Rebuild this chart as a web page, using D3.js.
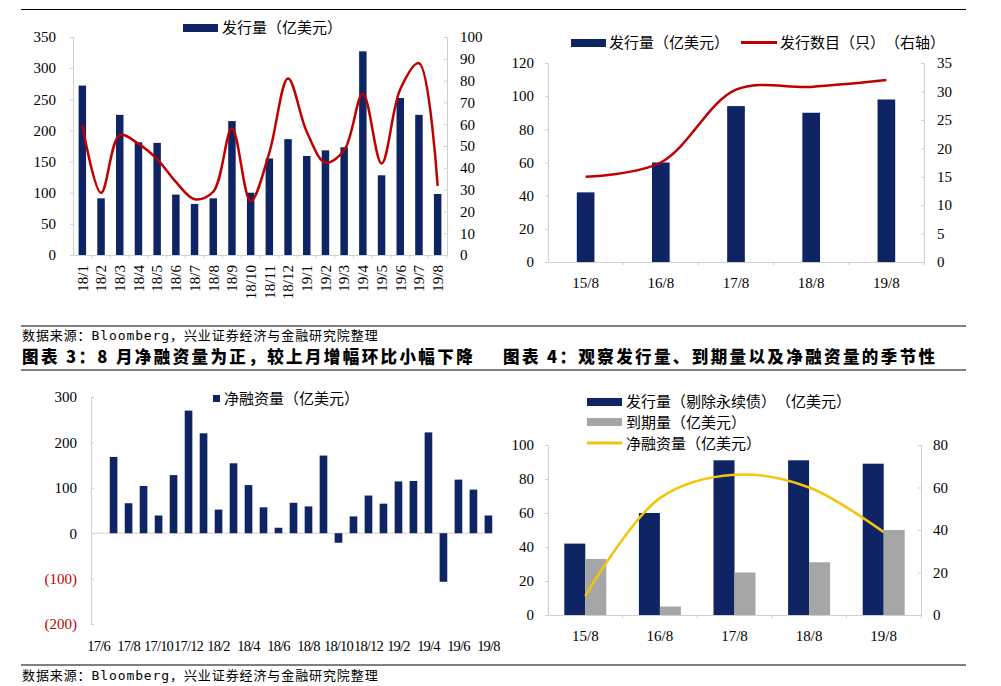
<!DOCTYPE html>
<meta charset="utf-8">
<script src="https://d3js.org/d3.v7.min.js"></script>
<style>
  body { margin: 0; background: #fff; }
  svg text { text-spacing-trim: space-all; }
  .num { font-family: "Liberation Serif", "Times New Roman", serif; font-size: 15px; }
  .num3 { font-family: "Liberation Serif", "Times New Roman", serif; font-size: 14.5px; letter-spacing: -0.8px; }
  .cjk { font-family: "Noto Sans CJK SC", sans-serif; font-size: 15px; fill: #000; }
  .src { font-family: "DejaVu Sans Mono", "Noto Sans CJK SC", monospace; font-size: 13px; letter-spacing: 0.9px; fill: #000; }
  .ttl { font-family: "Noto Sans CJK SC", sans-serif; font-size: 16.5px; font-weight: 900; fill: #000; letter-spacing: 2.4px; }
</style>
<body>
<div id="chart"></div>
<script>
// chart 1: monthly issuance + count
var months1 = ["18/1","18/2","18/3","18/4","18/5","18/6","18/7","18/8","18/9","18/10","18/11","18/12",
               "19/1","19/2","19/3","19/4","19/5","19/6","19/7","19/8"];
var issue1 = [272, 91, 225, 181, 180, 97, 82, 91, 215, 100, 155, 186, 159, 168, 173, 327, 128, 252, 225, 98];
var count1 = [59.5, 28.5, 55, 51, 44, 33.5, 25.6, 29, 58, 24.7, 47, 81, 56.5, 42.4, 48, 74, 42, 76, 88, 31.7];

// chart 2: August issuance by year
var years = ["15/8","16/8","17/8","18/8","19/8"];
var issue2 = [42, 60, 94, 90, 98];
var count2 = [15, 17.5, 30.3, 30.8, 32];

// chart 3: net financing
var months3 = ["17/6","17/7","17/8","17/9","17/10","17/11","17/12","18/1","18/2","18/3","18/4","18/5","18/6",
               "18/7","18/8","18/9","18/10","18/11","18/12","19/1","19/2","19/3","19/4","19/5","19/6","19/7","19/8"];
var net3 = [null, 168, 66, 104, 39, 128, 270, 220, 52, 154, 106, 57, 12, 67, 59, 171, -21, 37, 83, 65, 114, 115, 222, -107, 118, 96, 39];

// chart 4: August seasonality
var issue4 = [42, 60, 91, 91, 89];
var mature4 = [33, 5, 25, 31, 50];
var net4 = [9, 55, 66, 60, 39];

var navy = "#0f2465", red = "#c00000", gold = "#f2c40a", grey = "#a6a6a6", axisCol = "#d0d0d0";

var svg = d3.select("#chart").append("svg")
  .attr("width", 1001).attr("height", 686);

// rules and captions
[9.5, 326, 370, 665].forEach(function(r) {
  svg.append("line").attr("x1", 21).attr("x2", 966).attr("y1", r).attr("y2", r)
    .attr("stroke", "#000").attr("stroke-width", 1);
});
svg.append("text").attr("class", "src").attr("x", 22).attr("y", 340).text("数据来源：Bloomberg，兴业证券经济与金融研究院整理");
svg.append("text").attr("class", "src").attr("x", 22).attr("y", 680).text("数据来源：Bloomberg，兴业证券经济与金融研究院整理");
svg.append("text").attr("class", "ttl").attr("x", 22).attr("y", 363).text("图表 3：8 月净融资量为正，较上月增幅环比小幅下降");
svg.append("text").attr("class", "ttl").attr("x", 503).attr("y", 363).text("图表 4：观察发行量、到期量以及净融资量的季节性");

function axisStyle(g, cls) {
  g.select(".domain").attr("stroke", axisCol);
  g.selectAll(".tick line").attr("stroke", axisCol);
  g.selectAll(".tick text").attr("class", cls || "num").style("fill", "#000");
}

// ---------- chart 1 ----------
(function() {
  var x = d3.scaleBand().domain(months1).range([73, 447]).paddingInner(0.6).paddingOuter(0.3);
  var y = d3.scaleLinear().domain([0, 350]).range([255, 37]);
  var y2 = d3.scaleLinear().domain([0, 100]).range([255, 37]);
  var g = svg.append("g");

  g.append("g").attr("transform", "translate(73,0)")
    .call(d3.axisLeft(y).tickValues(d3.range(0, 351, 50)).tickSize(3).tickPadding(14))
    .call(axisStyle);
  g.append("g").attr("transform", "translate(447,0)")
    .call(d3.axisRight(y2).tickValues(d3.range(0, 101, 10)).tickSize(-3).tickPadding(13))
    .call(axisStyle);
  var xa = g.append("g").attr("transform", "translate(0,255)")
    .call(d3.axisBottom(x).tickSize(3).tickSizeOuter(0))
    .call(axisStyle);
  xa.selectAll(".tick line").attr("transform", "translate(" + (x.step() / 2) + ",0)");
  xa.selectAll(".tick text")
    .attr("transform", "rotate(-90)").attr("text-anchor", "end")
    .attr("x", -10).attr("y", 0).attr("dy", "0.35em");

  g.selectAll(".b1").data(months1).enter().append("rect")
    .attr("x", function(d) { return x(d); })
    .attr("width", x.bandwidth())
    .attr("y", function(d, i) { return y(issue1[i]); })
    .attr("height", function(d, i) { return 255 - y(issue1[i]); })
    .attr("fill", navy);

  var line = d3.line()
    .x(function(d, i) { return x(months1[i]) + x.bandwidth() / 2; })
    .y(function(d) { return y2(d); })
    .curve(d3.curveCatmullRom.alpha(0.5));
  g.append("path").datum(count1).attr("d", line)
    .attr("fill", "none").attr("stroke", red).attr("stroke-width", 2.5);

  g.append("rect").attr("x", 183).attr("y", 24).attr("width", 35).attr("height", 8).attr("fill", navy);
  g.append("text").attr("class", "cjk").attr("x", 222).attr("y", 33).text("发行量（亿美元）");
})();

// ---------- chart 2 ----------
(function() {
  var x = d3.scaleBand().domain(years).range([548, 924]).paddingInner(0.765).paddingOuter(0.383);
  var y = d3.scaleLinear().domain([0, 120]).range([262, 63]);
  var y2 = d3.scaleLinear().domain([0, 35]).range([262, 63]);
  var g = svg.append("g");

  g.append("g").attr("transform", "translate(548,0)")
    .call(d3.axisLeft(y).tickValues(d3.range(0, 121, 20)).tickSize(3).tickPadding(11))
    .call(axisStyle);
  g.append("g").attr("transform", "translate(924,0)")
    .call(d3.axisRight(y2).tickValues(d3.range(0, 36, 5)).tickSize(-3).tickPadding(13))
    .call(axisStyle);
  var xa = g.append("g").attr("transform", "translate(0,262)")
    .call(d3.axisBottom(x).tickSize(3).tickSizeOuter(0).tickPadding(12))
    .call(axisStyle);
  xa.selectAll(".tick line").attr("transform", "translate(" + (x.step() / 2) + ",0)");

  g.selectAll(".b2").data(years).enter().append("rect")
    .attr("x", function(d) { return x(d); })
    .attr("width", x.bandwidth())
    .attr("y", function(d, i) { return y(issue2[i]); })
    .attr("height", function(d, i) { return 262 - y(issue2[i]); })
    .attr("fill", navy);

  var line = d3.line()
    .x(function(d, i) { return x(years[i]) + x.bandwidth() / 2; })
    .y(function(d) { return y2(d); })
    .curve(d3.curveCatmullRom.alpha(0.5));
  g.append("path").datum(count2).attr("d", line)
    .attr("fill", "none").attr("stroke", red).attr("stroke-width", 2.5);

  g.append("rect").attr("x", 571).attr("y", 39).attr("width", 35).attr("height", 8).attr("fill", navy);
  g.append("text").attr("class", "cjk").attr("x", 609).attr("y", 48).text("发行量（亿美元）");
  g.append("line").attr("x1", 741).attr("x2", 777).attr("y1", 42.5).attr("y2", 42.5)
    .attr("stroke", red).attr("stroke-width", 3);
  g.append("text").attr("class", "cjk").attr("x", 780).attr("y", 48).text("发行数目（只）（右轴）");
})();

// ---------- chart 3 ----------
(function() {
  var x = d3.scaleBand().domain(months3).range([91, 496]).paddingInner(0.49).paddingOuter(0.25);
  var y = d3.scaleLinear().domain([-200, 300]).range([624, 397]);
  var g = svg.append("g");

  var ya = g.append("g").attr("transform", "translate(91,0)")
    .call(d3.axisLeft(y).tickValues(d3.range(-200, 301, 100)).tickSize(-3).tickPadding(14)
      .tickFormat(function(d) { return d < 0 ? "(" + (-d) + ")" : d; }))
    .call(axisStyle);
  ya.selectAll(".tick text").style("fill", function(d) { return d < 0 ? "#c00000" : "#000"; });

  g.append("line").attr("x1", 91).attr("x2", 492).attr("y1", y(0)).attr("y2", y(0))
    .attr("stroke", axisCol);

  var labels = months3.filter(function(d, i) { return i % 2 === 0; });
  g.append("g").attr("transform", "translate(0,624)")
    .call(d3.axisBottom(x).tickValues(labels).tickSize(0).tickPadding(17))
    .call(axisStyle, "num3")
    .select(".domain").remove();

  g.selectAll(".b3").data(months3.filter(function(d, i) { return net3[i] !== null; })).enter().append("rect")
    .attr("x", function(d) { return x(d); })
    .attr("width", x.bandwidth())
    .attr("y", function(d) { var v = net3[months3.indexOf(d)]; return y(Math.max(0, v)); })
    .attr("height", function(d) { var v = net3[months3.indexOf(d)]; return Math.abs(y(v) - y(0)); })
    .attr("fill", navy);

  g.append("rect").attr("x", 213).attr("y", 395).attr("width", 7).attr("height", 7).attr("fill", navy);
  g.append("text").attr("class", "cjk").attr("x", 224).attr("y", 404).text("净融资量（亿美元）");
})();

// ---------- chart 4 ----------
(function() {
  var x = d3.scaleBand().domain(years).range([548, 921]);
  var y = d3.scaleLinear().domain([0, 100]).range([615, 445]);
  var y2 = d3.scaleLinear().domain([0, 80]).range([615, 445]);
  var bw = 21;
  var g = svg.append("g");

  g.append("g").attr("transform", "translate(548,0)")
    .call(d3.axisLeft(y).tickValues(d3.range(0, 101, 20)).tickSize(3).tickPadding(11))
    .call(axisStyle);
  g.append("g").attr("transform", "translate(921,0)")
    .call(d3.axisRight(y2).tickValues(d3.range(0, 81, 20)).tickSize(-3).tickPadding(12))
    .call(axisStyle);
  var xa = g.append("g").attr("transform", "translate(0,615)")
    .call(d3.axisBottom(x).tickSize(3).tickSizeOuter(0).tickPadding(12))
    .call(axisStyle);
  xa.selectAll(".tick line").attr("transform", "translate(" + (x.step() / 2) + ",0)");

  function cx(d) { return x(d) + x.bandwidth() / 2; }
  g.selectAll(".b4a").data(years).enter().append("rect")
    .attr("x", function(d) { return cx(d) - bw; })
    .attr("width", bw)
    .attr("y", function(d, i) { return y(issue4[i]); })
    .attr("height", function(d, i) { return 615 - y(issue4[i]); })
    .attr("fill", navy);
  g.selectAll(".b4b").data(years).enter().append("rect")
    .attr("x", function(d) { return cx(d); })
    .attr("width", bw)
    .attr("y", function(d, i) { return y(mature4[i]); })
    .attr("height", function(d, i) { return 615 - y(mature4[i]); })
    .attr("fill", grey);

  var line = d3.line()
    .x(function(d, i) { return cx(years[i]); })
    .y(function(d) { return y2(d); })
    .curve(d3.curveCatmullRom.alpha(0.5));
  g.append("path").datum(net4).attr("d", line)
    .attr("fill", "none").attr("stroke", gold).attr("stroke-width", 2.5);

  g.append("rect").attr("x", 587).attr("y", 398).attr("width", 35).attr("height", 8).attr("fill", navy);
  g.append("text").attr("class", "cjk").attr("x", 626).attr("y", 407).text("发行量（剔除永续债）（亿美元）");
  g.append("rect").attr("x", 587).attr("y", 418).attr("width", 35).attr("height", 8).attr("fill", grey);
  g.append("text").attr("class", "cjk").attr("x", 626).attr("y", 428).text("到期量（亿美元）");
  g.append("line").attr("x1", 587).attr("x2", 622).attr("y1", 443).attr("y2", 443)
    .attr("stroke", gold).attr("stroke-width", 3);
  g.append("text").attr("class", "cjk").attr("x", 626).attr("y", 449).text("净融资量（亿美元）");
})();
</script>
</body>
